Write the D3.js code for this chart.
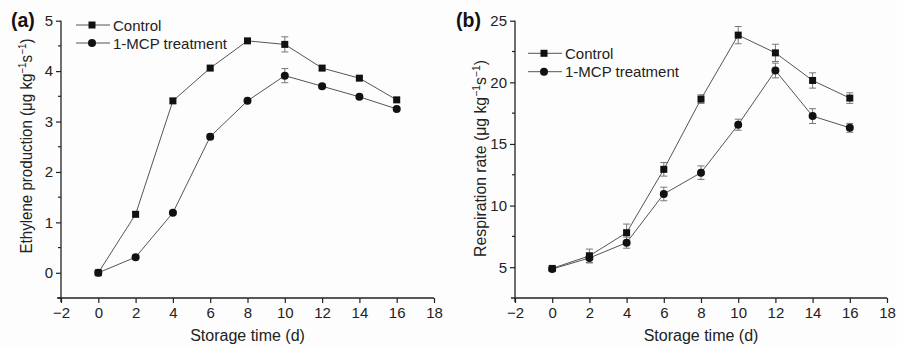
<!DOCTYPE html>
<html><head><meta charset="utf-8">
<script src="https://cdn.jsdelivr.net/npm/d3@7"></script>
<style>
html,body{margin:0;padding:0;background:#fdfdfd;}
svg{display:block;font-family:"Liberation Sans",Arial,sans-serif;}
</style></head>
<body><svg id="c" width="897" height="349"></svg>
<script>
const days = [0, 2, 4, 6, 8, 10, 12, 14, 16];
const xTicks = [-2, 0, 2, 4, 6, 8, 10, 12, 14, 16, 18];
const seriesNames = ["Control", "1-MCP treatment"];

// Panel (a): ethylene production
const ethControl = [0.0, 1.16, 3.41, 4.06, 4.60, 4.53, 4.06, 3.86, 3.43];
const ethControlErr = [0.03, 0.04, 0.04, 0.04, 0.03, 0.15, 0.05, 0.04, 0.04];
const ethMCP = [0.0, 0.31, 1.19, 2.70, 3.41, 3.91, 3.70, 3.49, 3.25];
const ethMCPErr = [0.03, 0.03, 0.03, 0.05, 0.03, 0.14, 0.04, 0.03, 0.03];
const ethYTicks = [0, 1, 2, 3, 4, 5];

// Panel (b): respiration rate
const respControl = [4.9, 5.92, 7.8, 12.94, 18.64, 23.83, 22.39, 20.15, 18.72];
const respControlErr = [0.1, 0.55, 0.7, 0.55, 0.35, 0.7, 0.7, 0.62, 0.43];
const respMCP = [4.85, 5.75, 6.99, 10.94, 12.67, 16.56, 20.96, 17.26, 16.31];
const respMCPErr = [0.1, 0.4, 0.45, 0.55, 0.55, 0.45, 0.6, 0.6, 0.36];
const respYTicks = [5, 10, 15, 20, 25];

const svg = d3.select("#c");
const lineCol = "#555", errCol = "#777", axCol = "#222";

function panel(o) {
  const g = svg.append("g");
  const x = d3.scaleLinear().domain([-2, 18]).range([o.left, o.right]);
  const y = d3.scaleLinear().domain(o.yDomain).range([o.bottom, o.top]);

  // y axis
  const yAx = g.append("g").attr("transform", `translate(${o.left},0)`)
    .call(d3.axisLeft(y).tickValues(o.yTicks).tickSize(5).tickPadding(3).tickFormat(d3.format("d")));
  yAx.select(".domain").attr("d", `M0,${o.bottom + 4}V${o.top}`).attr("stroke", axCol).attr("stroke-width", 1.3);
  yAx.selectAll(".tick line").attr("stroke", axCol).attr("stroke-width", 1.2);
  yAx.selectAll("text").attr("font-size", 15).attr("fill", "#222");
  // minor ticks
  g.append("g").selectAll("line").data(o.yMinor).join("line")
    .attr("x1", o.left - 3).attr("x2", o.left).attr("y1", d => y(d)).attr("y2", d => y(d))
    .attr("stroke", axCol).attr("stroke-width", 1.2);

  // x axis
  const xAx = g.append("g").attr("transform", `translate(0,${o.bottom})`)
    .call(d3.axisBottom(x).tickValues(xTicks).tickSize(5).tickPadding(4)
      .tickFormat(d => d < 0 ? "\u2212" + Math.abs(d) : d));
  xAx.select(".domain").attr("d", `M${o.left - 4},0H${o.right}`).attr("stroke", axCol).attr("stroke-width", 1.3);
  xAx.selectAll(".tick line").attr("stroke", axCol).attr("stroke-width", 1.2);
  xAx.selectAll("text").attr("font-size", 15).attr("fill", "#222");

  // titles
  g.append("text").attr("x", (o.left + o.right) / 2).attr("y", 341)
    .attr("text-anchor", "middle").attr("font-size", 16).attr("fill", "#222").text("Storage time (d)");
  const yt = g.append("text")
    .attr("text-anchor", "middle").attr("font-size", 16).attr("fill", "#222");
  yt.append("tspan").text(o.yTitle + " (\u03bcg kg");
  yt.append("tspan").attr("dy", -6).attr("font-size", 10.5).text("\u22121");
  yt.append("tspan").attr("dy", 6).text("s");
  yt.append("tspan").attr("dy", -6).attr("font-size", 10.5).text("\u22121");
  yt.append("tspan").attr("dy", 6).text(")");
  const len = yt.node().getComputedTextLength();
  const k = o.ytLen / len;
  yt.attr("transform", `translate(${o.ytX},${o.ytY}) rotate(-90) scale(${k},1)`);

  g.append("text").attr("x", o.labelX).attr("y", 27).attr("font-size", 19.5).attr("font-weight", "bold")
    .attr("fill", "#111").text(o.label);

  const series = [
    {vals: o.c, err: o.ce, shape: "square"},
    {vals: o.m, err: o.me, shape: "circle"}
  ];
  const line = d3.line().x((d, i) => x(days[i])).y(d => y(d));
  series.forEach(s => {
    const eb = g.append("g").attr("stroke", errCol).attr("stroke-width", 1);
    s.vals.forEach((v, i) => {
      const cx = x(days[i]), y1 = y(v - s.err[i]), y2 = y(v + s.err[i]);
      eb.append("line").attr("x1", cx).attr("x2", cx).attr("y1", y1).attr("y2", y2);
      eb.append("line").attr("x1", cx - 3.5).attr("x2", cx + 3.5).attr("y1", y1).attr("y2", y1);
      eb.append("line").attr("x1", cx - 3.5).attr("x2", cx + 3.5).attr("y1", y2).attr("y2", y2);
    });
    g.append("path").datum(s.vals).attr("d", line).attr("fill", "none")
      .attr("stroke", lineCol).attr("stroke-width", 1);
  });
  series.forEach(s => {
    s.vals.forEach((v, i) => drawMarker(g, s.shape, x(days[i]), y(v)));
  });

  // legend
  series.forEach((s, kk) => {
    const ly = o.legY + kk * o.legDy;
    g.append("line").attr("x1", o.legX).attr("x2", o.legX + 34).attr("y1", ly).attr("y2", ly)
      .attr("stroke", lineCol).attr("stroke-width", 1);
    drawMarker(g, s.shape, o.legX + 16, ly);
    g.append("text").attr("x", o.legX + 37).attr("y", ly + 5.5).attr("font-size", 15)
      .attr("fill", "#222").text(seriesNames[kk]);
  });
}

function drawMarker(g, shape, cx, cy) {
  if (shape === "square") {
    g.append("rect").attr("x", cx - 3.5).attr("y", cy - 3.5).attr("width", 7).attr("height", 7).attr("fill", "#111");
  } else {
    g.append("circle").attr("cx", cx).attr("cy", cy).attr("r", 4).attr("fill", "#111");
  }
}

panel({
  left: 61, right: 434, top: 20.7, bottom: 298, yDomain: [-0.5, 5], yTicks: ethYTicks,
  yMinor: [-0.5, 0.5, 1.5, 2.5, 3.5, 4.5],
  c: ethControl, ce: ethControlErr, m: ethMCP, me: ethMCPErr,
  yTitle: "Ethylene production", ytX: 32, ytY: 146, ytLen: 215, label: "(a)", labelX: 11,
  legX: 76, legY: 25, legDy: 18
});
panel({
  left: 515, right: 887, top: 20.7, bottom: 298, yDomain: [2.5, 25], yTicks: respYTicks,
  yMinor: [7.5, 12.5, 17.5, 22.5],
  c: respControl, ce: respControlErr, m: respMCP, me: respMCPErr,
  yTitle: "Respiration rate", ytX: 486, ytY: 158.5, ytLen: 197, label: "(b)", labelX: 456,
  legX: 528, legY: 53.3, legDy: 18.4
});
</script></body></html>
